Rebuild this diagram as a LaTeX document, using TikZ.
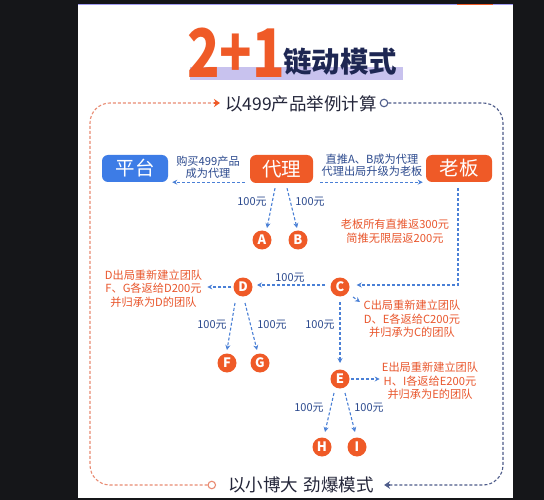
\documentclass[tikz,border=0pt]{standalone}
\usepackage{fontspec}
\setmainfont{Noto Sans CJK SC}
\usetikzlibrary{arrows.meta,calc}
\definecolor{bgdark}{HTML}{151619}
\definecolor{orng}{HTML}{EF5A27}
\definecolor{pblue}{HTML}{3D7CE6}
\definecolor{ablue}{HTML}{4A80D6}
\definecolor{lblue}{HTML}{2C4A8E}
\definecolor{otext}{HTML}{E9562C}
\definecolor{tnavy}{HTML}{1E2753}
\definecolor{lav}{HTML}{C8C2EE}
\definecolor{fodash}{HTML}{E98B72}
\definecolor{fndash}{HTML}{4E5C8A}
\definecolor{dtext}{HTML}{24263A}
\begin{document}
\begin{tikzpicture}[x=1pt,y=-1pt,
  mainbox/.style={rounded corners=6, minimum width=66, minimum height=27, inner sep=0, text=white, font=\fontsize{19.5}{19.5}\selectfont},
  ball/.style={circle, fill=orng, minimum size=19, inner sep=0, text=white, font=\fontsize{13}{13}\selectfont\bfseries},
  lbl/.style={text=lblue, font=\fontsize{11}{11}\selectfont, inner sep=1},
  note/.style={text=otext, font=\fontsize{11.2}{13.5}\selectfont, align=center, inner sep=2},
  bnote/.style={text=lblue, font=\fontsize{11.2}{12.5}\selectfont, align=center, inner sep=2},
  blarr/.style={draw=ablue, line width=1.1, dash pattern=on 3pt off 2pt, -{Stealth[length=5pt,width=5pt]}},
  bigtxt/.style={text=dtext, font=\fontsize{17.5}{17.5}\selectfont, inner sep=2},
  ring/.style={circle, draw=#1, line width=1.1, minimum size=7.5, inner sep=0, fill=white},
  odash/.style={draw=fodash, line width=1.1, dash pattern=on 3pt off 2pt},
  ndash/.style={draw=fndash, line width=1.1, dash pattern=on 3pt off 2pt}
]
\useasboundingbox (0,0) rectangle (544,500);
\fill[bgdark] (0,0) rectangle (544,500);
\fill[white] (78,4) rectangle (513,498);
\draw[lav!80!blue, line width=1] (78,4.5) -- (513,4.5);
\draw[orng, line width=1] (457,4.5) -- (493,4.5);

% title
\fill[lav] (190,67) rectangle (403,80);
\node[text=orng, inner sep=0, font=\fontsize{67}{67}\selectfont\bfseries] (t21) at (236,52.5) {\scalebox{0.8}[1]{2+1}};
\node[text=tnavy, inner sep=0, font=\fontsize{28.5}{28.5}\selectfont\bfseries] (t2) at (340,62) {链动模式};

% frame texts
\node[bigtxt] (sub) at (301,104) {以499产品举例计算};
\node[bigtxt] (bot) at (301,485) {以小博大\hspace{6pt}劲爆模式};
\node[ring=fndash] (oc1) at ($(sub.east)+(5,-1)$) {};
\node[ring=fodash] (oc2) at ($(bot.west)+(-14,0)$) {};
\draw[odash, rounded corners=20] (oc2.west) -- (90,485) -- (90,103) -- ($(sub.west)+(-6,-1)$);
\draw[orng, line width=1.1, -{Stealth[length=6pt,width=8pt,inset=2pt]}] ($(sub.west)+(-9,-1)$) -- ($(sub.west)+(-3,-1)$);
\draw[ndash, rounded corners=20] (oc1.east) -- (503,103) -- (503,485) -- ($(bot.east)+(10,0)$);
\draw[fndash, line width=1.1, -{Stealth[length=6pt,width=8pt,inset=2pt]}] ($(bot.east)+(14,0)$) -- ($(bot.east)+(8,0)$);

% main boxes
\node[mainbox, fill=pblue] (pt) at (135,168.5) {平台};
\node[mainbox, fill=orng, minimum width=63, minimum height=28] (dl) at (281.5,169) {代理};
\node[mainbox, fill=orng] (lb) at (459,168.5) {老板};

% balls
\node[ball] (A) at (262,240) {A};
\node[ball] (B) at (298,240) {B};
\node[ball] (C) at (340,287) {C};
\node[ball] (D) at (243,287) {D};
\node[ball] (E) at (340,379) {E};
\node[ball] (F) at (227,363) {F};
\node[ball] (G) at (260,363) {G};
\node[ball] (H) at (322,447) {H};
\node[ball] (I) at (357,447) {I};

% notes
\node[bnote] (buy) at (208,167.5) {购买499产品\\成为代理};
\node[bnote] (zt) at (372,165.5) {直推A、B成为代理\\代理出局升级为老板};
\node[note] (boss) at (395,231.5) {老板所有直推返300元\\简推无限层返200元};
\node[note] (dt) at (153.5,288.5) {D出局重新建立团队\\F、G各返给D200元\\并归承为D的团队};
\node[note] (ct) at (412,319) {C出局重新建立团队\\D、E各返给C200元\\并归承为C的团队};
\node[note] (et) at (430,381) {E出局重新建立团队\\H、I各返给E200元\\并归承为E的团队};

% labels
\node[lbl] (l1) at (252,202) {100元};
\node[lbl] (l2) at (310,202) {100元};
\node[lbl] (l3) at (290,278) {100元};
\node[lbl] (l4) at (212,325) {100元};
\node[lbl] (l5) at (272,325) {100元};
\node[lbl] (l6) at (320,325) {100元};
\node[lbl] (l7) at (309,408) {100元};
\node[lbl] (l8) at (369,408) {100元};

% connectors
\draw[blarr] ($(dl.south west)+(-5,-1)$) -- ($(pt.south east)+(4,0)$);
\draw[blarr] ($(dl.south east)+(7,-1)$) -- ($(lb.south west)+(-3,0)$);
\draw[blarr] ($(dl.south)+(-6.5,5)$) -- ($(A)+(5,-12)$);
\draw[blarr] ($(dl.south)+(5.5,5)$) -- ($(B)+(-1,-12)$);
\draw[blarr] ($(lb.south)+(-1,6)$) |- ($(C.east)+(7,-2)$);
\draw[blarr] ($(C)+(-15,-2)$) -- ($(D)+(14,-2)$);
\draw[blarr] ($(D.west)+(-2,0)$) -- ([xshift=3pt]dt.east |- D.west);
\draw[blarr] ($(C)+(13,10)$) -- ($(C)+(20,15)$);
\draw[blarr] ($(D)+(-8,16)$) -- ($(F)+(0,-13)$);
\draw[blarr] ($(D)+(2,16)$) -- ($(G)+(-3,-13)$);
\draw[blarr] ($(C)+(0,15)$) -- ($(E)+(0,-16)$);
\draw[blarr] ($(E)+(11,0)$) -- (et.west |- E.east);
\draw[blarr] ($(E)+(-6,14)$) -- ($(H)+(3,-15)$);
\draw[blarr] ($(E)+(5,14)$) -- ($(I)+(-2,-15)$);
\end{tikzpicture}
\end{document}
